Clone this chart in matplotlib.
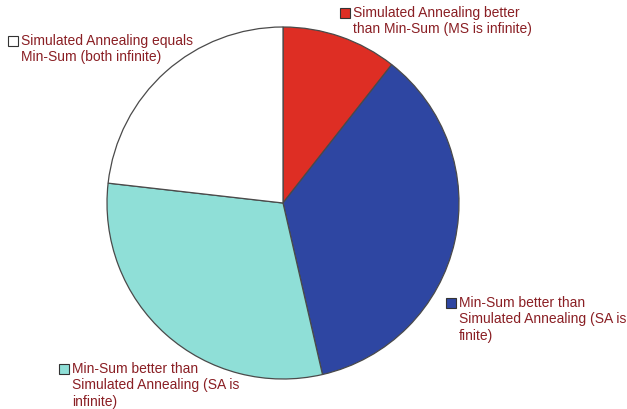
import matplotlib
matplotlib.use("Agg")
import matplotlib.pyplot as plt

# == DATA =================================================================== #
labels = ["Simulated Annealing better\nthan Min-Sum (MS is infinite)",
          "Min-Sum better than\nSimulated Annealing (SA is\nfinite)",
          "Min-Sum better than\nSimulated Annealing (SA is\ninfinite)",
          "Simulated Annealing equals\nMin-Sum (both infinite)"]
shares = [10.6, 35.8, 30.4, 23.2]
colors = ["#DE2E24", "#2E46A2", "#8FDFD7", "#FFFFFF"]

# label anchor (x, y of text top) in pixels, from top-left
label_pos = [(353, 6), (459, 296), (72, 362), (21, 34)]

# == PLOT =================================================================== #
W, H = 627, 409
plt.rcParams['font.family'] = ['Liberation Sans', 'DejaVu Sans']
fig = plt.figure(figsize=(W / 100, H / 100), dpi=100)
ax = fig.add_axes([0, 0, 1, 1])

ax.pie(shares, colors=colors, startangle=90, counterclock=False,
       center=(283, H - 203), radius=176,
       wedgeprops=dict(edgecolor="#4a4a4a", linewidth=0.9))

ax.set_xlim(0, W)
ax.set_ylim(0, H)
ax.set_aspect('equal')
ax.axis('off')

for lab, col, (x, y) in zip(labels, colors, label_pos):
    ax.plot(x - 8, H - y - 7, marker='s', markersize=6.6, color=col,
            markeredgecolor="#333333", markeredgewidth=0.8, clip_on=False)
    ax.text(x, H - y, lab, ha='left', va='top', fontsize=10,
            color="#8A1F24", linespacing=1.22)

fig.savefig("out.png", dpi=100)
